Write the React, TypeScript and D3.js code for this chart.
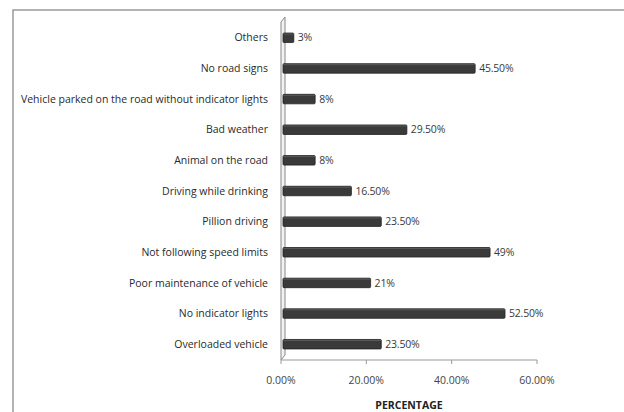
import React from 'react';
import * as d3 from 'd3';

const categories = [
  'Others',
  'No road signs',
  'Vehicle parked on the road without indicator lights',
  'Bad weather',
  'Animal on the road',
  'Driving while drinking',
  'Pillion driving',
  'Not following speed  limits',
  'Poor maintenance of vehicle',
  'No indicator lights',
  'Overloaded vehicle',
];
const values = [3, 45.5, 8, 29.5, 8, 16.5, 23.5, 49, 21, 52.5, 23.5];
const valueLabels = ['3%', '45.50%', '8%', '29.50%', '8%', '16.50%', '23.50%', '49%', '21%', '52.50%', '23.50%'];
const xTicks = [0, 20, 40, 60];

const W = 624;
const H = 412;
const margin = { left: 281, right: 87, top: 22, bottom: 52 };
const font = "'Open Sans', 'Liberation Sans', sans-serif";

export default function App() {
  const innerH = H - margin.top - margin.bottom;
  const x = d3.scaleLinear().domain([0, 60]).range([margin.left, W - margin.right]);
  const y = d3.scaleBand<string>().domain(categories).range([margin.top, margin.top + innerH]).paddingInner(0.69).paddingOuter(0.36);
  const bh = y.bandwidth();
  const baseY = margin.top + innerH;

  return (
    <svg width={W} height={H} style={{ position: 'absolute', left: 0, top: 0, background: '#fff' }}>
      <rect x={13} y={10} width={W + 10} height={H + 10} fill="#fff" stroke="#9a9a9a" strokeWidth={1.5} />

      {/* 3D wall behind bars */}
      <path
        d={`M${x(0)},${baseY} L${x(0)},${margin.top} L${x(0) + 4},${margin.top - 5} L${x(0) + 4},${baseY - 5} Z`}
        fill="#f2f2f2"
        stroke="#888"
        strokeWidth={1}
      />
      {/* floor line and ticks */}
      <line x1={x(0)} x2={x(60)} y1={baseY} y2={baseY} stroke="#999" strokeWidth={1} />
      {xTicks.map(t => (
        <g key={t}>
          <line x1={x(t)} x2={x(t)} y1={baseY} y2={baseY + 4} stroke="#999" />
          <text x={x(t)} y={baseY + 24} textAnchor="middle" fontFamily={font} fontSize={10.5} fill="#444">
            {t.toFixed(2) + '%'}
          </text>
        </g>
      ))}

      {categories.map((c, i) => {
        const yy = y(c)!;
        const xe = x(values[i]);
        return (
          <g key={c}>
            <text x={268} y={yy + bh / 2} dy="0.35em" textAnchor="end" fontFamily={font} fontSize={10.5} fill="#2a2a2a">
              {c}
            </text>
            <rect x={x(0) + 2} y={yy} width={xe - x(0) - 2} height={bh} fill="#3a3a3a" stroke="#222" strokeWidth={0.8} rx={1} />
            <line x1={x(0) + 2} x2={xe} y1={yy + 1} y2={yy + 1} stroke="#5a5a5a" strokeWidth={1} />
            <text x={xe + 4} y={yy + bh / 2} dy="0.35em" fontFamily={font} fontSize={10.5} fill="#3a3a3a" letterSpacing={-0.2}>
              {valueLabels[i]}
            </text>
          </g>
        );
      })}

      <text x={x(30)} y={H - 3} textAnchor="middle" fontFamily={font} fontSize={10.5} fontWeight="bold" fill="#222">
        PERCENTAGE
      </text>
    </svg>
  );
}
